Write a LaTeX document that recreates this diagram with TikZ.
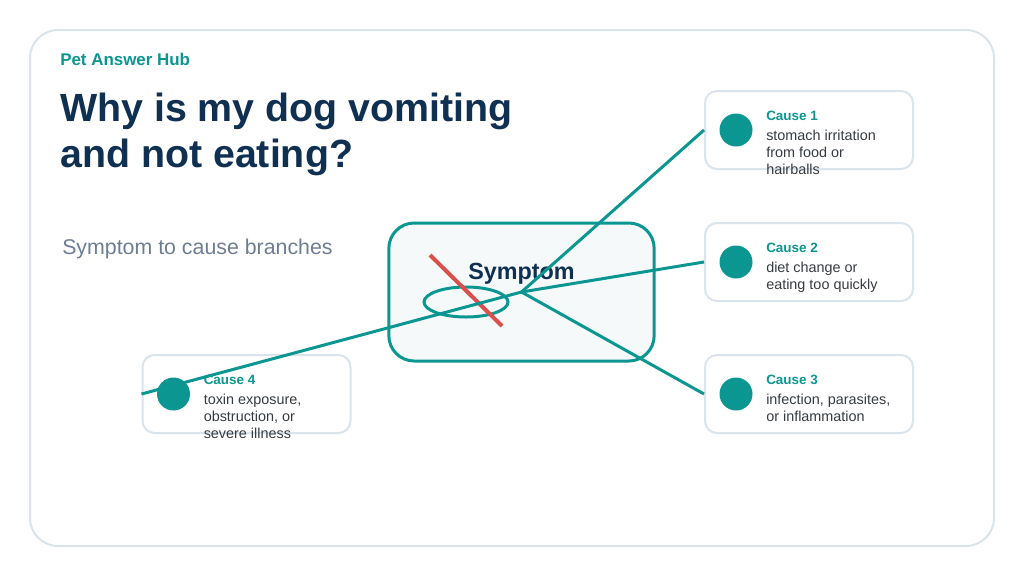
\documentclass[tikz,border=0pt]{standalone}
\usepackage{fontspec}
\setmainfont{Liberation Sans}
\usetikzlibrary{positioning}
\definecolor{hubTeal}{RGB}{12,150,146}
\definecolor{hubNavy}{RGB}{16,48,82}
\definecolor{hubGrey}{RGB}{110,125,148}
\definecolor{hubText}{RGB}{55,60,66}
\definecolor{hubEdge}{RGB}{218,228,234}
\definecolor{hubFill}{RGB}{245,249,250}
\definecolor{hubRed}{RGB}{218,80,76}

\begin{document}
\begin{tikzpicture}[x=0.75pt,y=-0.75pt,
card/.style={draw=hubEdge,line width=1.5pt,rounded corners=9pt,fill=white,minimum width=156pt,minimum height=58.5pt},
dot/.style={circle,fill=hubTeal,minimum size=24.75pt,inner sep=0},
head/.style={anchor=base west,inner sep=0,text=hubTeal,font=\fontsize{10.1}{12}\selectfont\bfseries},
desc/.style={anchor=base west,inner sep=0,align=left,text=hubText,font=\fontsize{10.8}{12.75}\selectfont},
link/.style={draw=hubTeal,line width=2.25pt}
]
\useasboundingbox (0,0) rectangle (1024,576);
\draw[hubEdge,line width=1.5pt,rounded corners=21pt] (30,30) rectangle (994,546);

\node[anchor=base west,inner sep=0,text=hubTeal,font=\fontsize{12.7}{15}\selectfont\bfseries] (brand) at (60,65) {Pet Answer Hub};
% base of a two-line node is its last line
\node[anchor=base west,inner sep=0,align=left,text=hubNavy,font=\fontsize{29.5}{34}\selectfont\bfseries] (title) at (60,167) {Why is my dog vomiting\\and not eating?};
\node[anchor=base west,inner sep=0,text=hubGrey,font=\fontsize{16}{19}\selectfont] (sub) at (62,254) {Symptom to cause branches};

% symptom box
\node[draw=hubTeal,line width=2.25pt,fill=hubFill,rounded corners=19pt,minimum width=199pt,minimum height=103.5pt] (sym) at (521.5,292) {};
\draw[hubTeal,line width=2.25pt] (466,302) ellipse [x radius=31.5pt,y radius=11.25pt];
\draw[hubRed,line width=3pt] (430,255) -- (502,326);
\node[anchor=base,inner sep=0,text=hubNavy,font=\fontsize{17.5}{20}\selectfont\bfseries] (symtxt) at (521.5,279) {Symptom};

% cause cards (\k = number of text lines)
\foreach \n/\x/\y/\k/\txt in {1/809/130/3/{stomach irritation\\from food or\\hairballs},
  2/809/262/2/{diet change or\\eating too quickly},
  3/809/394/2/{infection, parasites,\\or inflammation},
  4/246.5/394/3/{toxin exposure,\\obstruction, or\\severe illness}}{
  \node[card] (c\n) at (\x,\y) {};
  \node[dot] (d\n) at ({\x-73},\y) {};
  \node[head] (h\n) at ({\x-43},{\y-10}) {Cause \n};
  \node[desc] (t\n) at ({\x-43},{\y+10+17*(\k-1)}) {\txt};
}

\foreach \c in {c1,c2,c3,c4}
  \draw[link] (sym.center) -- (\c.west);
\end{tikzpicture}
\end{document}
